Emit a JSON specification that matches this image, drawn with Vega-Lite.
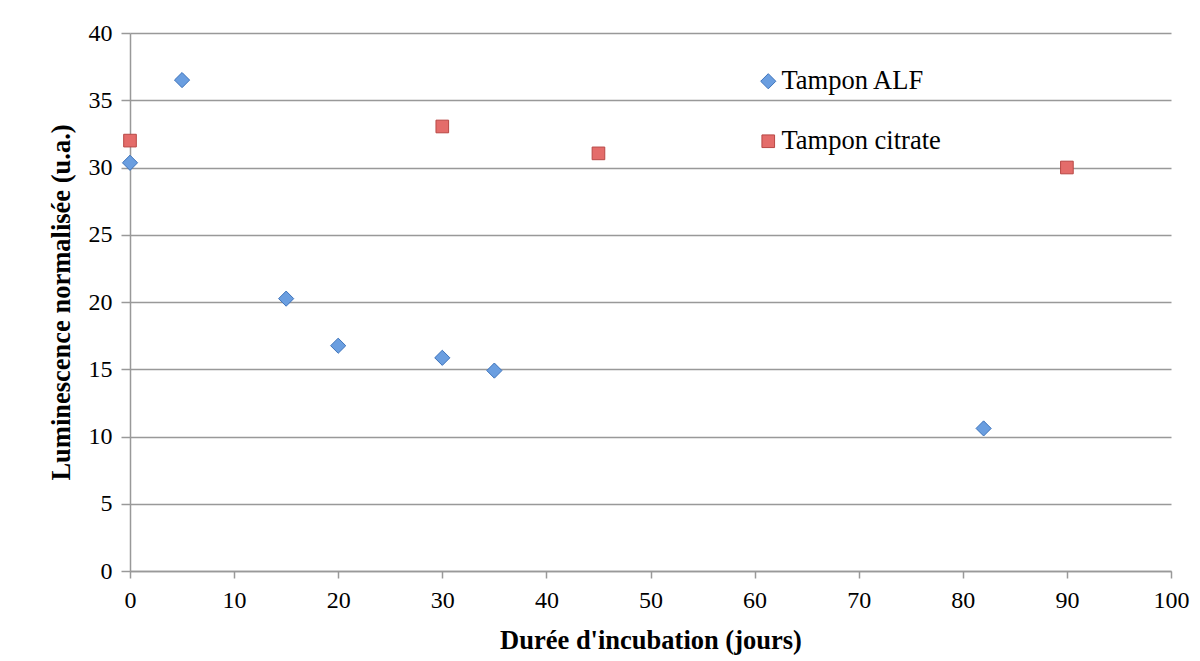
{
  "$schema": "https://vega.github.io/schema/vega-lite/v6.json",
  "autosize": "none",
  "width": 1041,
  "height": 538,
  "padding": {"left": 130, "top": 33, "right": 29, "bottom": 90},
  "background": "white",
  "config": {
    "font": "Liberation Serif",
    "view": {"stroke": null},
    "legend": {
      "title": null, "orient": "none", "legendX": 625, "legendY": 35,
      "labelFont": "Liberation Serif", "labelFontSize": 26.5, "labelColor": "black",
      "rowPadding": 33, "labelOffset": 0, "symbolStrokeWidth": 1, "padding": 0
    }
  },
  "data": {
    "values": [
      {"jours": 0, "lum": 30.35, "serie": "Tampon ALF"},
      {"jours": 5, "lum": 36.5, "serie": "Tampon ALF"},
      {"jours": 15, "lum": 20.25, "serie": "Tampon ALF"},
      {"jours": 20, "lum": 16.75, "serie": "Tampon ALF"},
      {"jours": 30, "lum": 15.85, "serie": "Tampon ALF"},
      {"jours": 35, "lum": 14.9, "serie": "Tampon ALF"},
      {"jours": 82, "lum": 10.6, "serie": "Tampon ALF"},
      {"jours": 0, "lum": 32.0, "serie": "Tampon citrate"},
      {"jours": 30, "lum": 33.05, "serie": "Tampon citrate"},
      {"jours": 45, "lum": 31.05, "serie": "Tampon citrate"},
      {"jours": 90, "lum": 30.0, "serie": "Tampon citrate"}
    ]
  },
  "mark": {"type": "point", "filled": true, "opacity": 1, "strokeWidth": 1, "clip": false},
  "encoding": {
    "x": {
      "field": "jours", "type": "quantitative",
      "scale": {"domain": [0, 100], "nice": false, "zero": false},
      "axis": {
        "title": "Durée d'incubation (jours)",
        "titleFont": "Liberation Serif", "titleFontSize": 26.5, "titleFontWeight": "bold", "titleColor": "black",
        "titlePadding": 15,
        "values": [0, 10, 20, 30, 40, 50, 60, 70, 80, 90, 100],
        "labelFont": "Liberation Serif", "labelFontSize": 24, "labelColor": "black", "labelPadding": 10,
        "labelFlush": false, "labelOverlap": false,
        "tickColor": "#999999", "tickSize": 7, "tickWidth": 1.5,
        "domainColor": "#999999", "domainWidth": 1.5,
        "grid": false
      }
    },
    "y": {
      "field": "lum", "type": "quantitative",
      "scale": {"domain": [0, 40], "nice": false, "zero": false},
      "axis": {
        "title": "Luminescence normalisée (u.a.)",
        "titleFont": "Liberation Serif", "titleFontSize": 26.5, "titleFontWeight": "bold", "titleColor": "black",
        "titlePadding": 13,
        "values": [0, 5, 10, 15, 20, 25, 30, 35, 40],
        "labelFont": "Liberation Serif", "labelFontSize": 24, "labelColor": "black", "labelPadding": 9,
        "labelFlush": false, "labelOverlap": false,
        "tickColor": "#999999", "tickSize": 9, "tickWidth": 1.5,
        "domainColor": "#999999", "domainWidth": 1.5,
        "grid": true, "gridColor": "#999999", "gridWidth": 1.5
      }
    },
    "shape": {
      "field": "serie", "type": "nominal",
      "scale": {"domain": ["Tampon ALF", "Tampon citrate"], "range": ["diamond", "square"]}
    },
    "size": {
      "field": "serie", "type": "nominal",
      "scale": {"domain": ["Tampon ALF", "Tampon citrate"], "range": [230, 160]}
    },
    "fill": {
      "field": "serie", "type": "nominal",
      "scale": {"domain": ["Tampon ALF", "Tampon citrate"], "range": ["#6a9ee0", "#e46c6a"]}
    },
    "stroke": {
      "field": "serie", "type": "nominal",
      "scale": {"domain": ["Tampon ALF", "Tampon citrate"], "range": ["#3d73bb", "#b84845"]}
    }
  }
}
